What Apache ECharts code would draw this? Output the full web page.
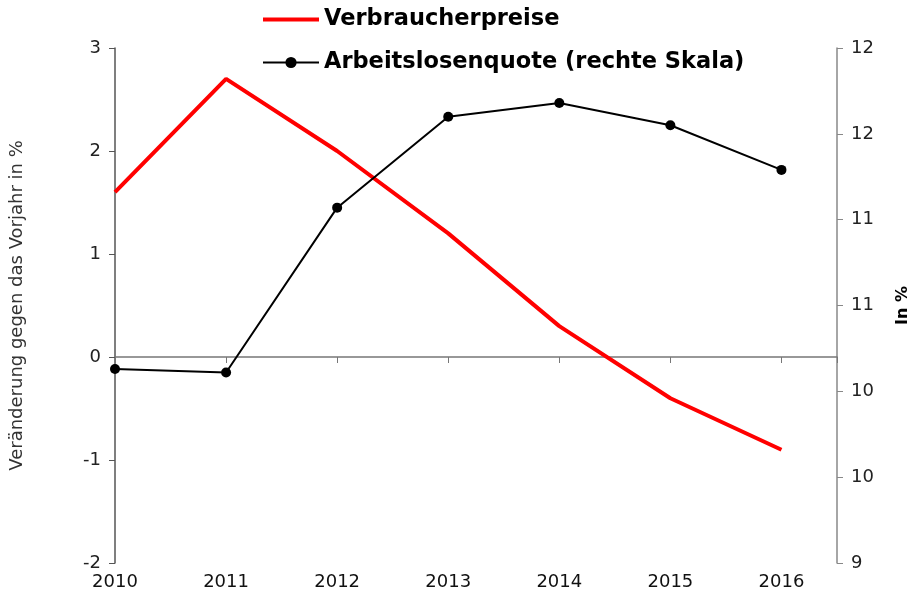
<!DOCTYPE html>
<html>
<head>
<meta charset="utf-8">
<script src="https://cdn.jsdelivr.net/npm/echarts@6/dist/echarts.min.js"></script>
<style>
  html, body { margin: 0; padding: 0; background: #fff; }
  #main { width: 909px; height: 605px; }
</style>
</head>
<body>
<div id="main"></div>
<script>
// Daten
const years = [2010, 2011, 2012, 2013, 2014, 2015, 2016];
const verbraucherpreise = [1.6, 2.7, 2.0, 1.2, 0.3, -0.4, -0.9];
const arbeitslosenquote = [10.13, 10.11, 11.07, 11.6, 11.68, 11.55, 11.29];

const font = 'DejaVu Sans';
const chart = echarts.init(document.querySelector('#main'));

const option = {
    backgroundColor: '#fff',
    textStyle: { fontFamily: font },
    legend: {
        orient: 'vertical',
        left: 256,
        top: 3,
        itemWidth: 56,
        itemHeight: 14,
        itemGap: 20,
        textStyle: { fontSize: 22.5, fontWeight: 'bold', color: '#000', fontFamily: font },
        data: [
            { name: 'Verbraucherpreise', itemStyle: { opacity: 0 }, lineStyle: { width: 4 } },
            { name: 'Arbeitslosenquote (rechte Skala)', lineStyle: { width: 2 } }
        ]
    },
    grid: { left: 115, right: 72, top: 48, bottom: 42, outerBoundsMode: 'none' },
    xAxis: [
        {
            type: 'value',
            min: 2010,
            max: 2016.5,
            interval: 1,
            position: 'bottom',
            axisLine: { show: false },
            axisTick: { show: false },
            splitLine: { show: false },
            axisLabel: {
                fontSize: 18,
                color: '#111',
                margin: 10,
                formatter: (v) => (v % 1 ? '' : String(v))
            }
        },
        {
            type: 'value',
            min: 2010,
            max: 2016.5,
            interval: 1,
            position: 'bottom',
            axisLine: { show: true, onZero: true, onZeroAxisIndex: 0, lineStyle: { color: '#777', width: 1.5 } },
            axisTick: { show: true, length: 6, lineStyle: { color: '#777' } },
            splitLine: { show: false },
            axisLabel: { show: false }
        }
    ],
    yAxis: [
        {
            type: 'value',
            min: -2,
            max: 3,
            interval: 1,
            position: 'left',
            name: 'Veränderung gegen das Vorjahr in %',
            nameLocation: 'middle',
            nameGap: 89,
            nameTextStyle: { fontSize: 18, color: '#333' },
            axisLine: { show: true, onZero: false, lineStyle: { color: '#555', width: 1.5 } },
            axisTick: { show: true, length: 6, lineStyle: { color: '#555' } },
            splitLine: { show: false },
            axisLabel: { fontSize: 18, color: '#222', margin: 14 }
        },
        {
            type: 'value',
            min: 9,
            max: 12,
            interval: 0.5,
            position: 'right',
            name: 'In %',
            nameLocation: 'middle',
            nameGap: 58,
            nameTextStyle: { fontSize: 16, fontWeight: 'bold', color: '#000' },
            axisLine: { show: true, onZero: false, lineStyle: { color: '#888', width: 1.5 } },
            axisTick: { show: true, length: 6, lineStyle: { color: '#888' } },
            splitLine: { show: false },
            axisLabel: {
                fontSize: 18,
                color: '#222',
                margin: 14,
                formatter: (v) => String(Math.round(v))
            }
        }
    ],
    series: [
        {
            name: 'Verbraucherpreise',
            type: 'line',
            xAxisIndex: 0,
            yAxisIndex: 0,
            symbol: 'none',
            lineStyle: { color: '#ff0000', width: 4 },
            itemStyle: { color: '#ff0000' },
            data: years.map((y, i) => [y, verbraucherpreise[i]])
        },
        {
            name: 'Arbeitslosenquote (rechte Skala)',
            type: 'line',
            xAxisIndex: 0,
            yAxisIndex: 1,
            symbol: 'circle',
            symbolSize: 10,
            lineStyle: { color: '#000', width: 2 },
            itemStyle: { color: '#000' },
            data: years.map((y, i) => [y, arbeitslosenquote[i]])
        }
    ],
    animation: false
};
chart.setOption(option);
</script>
</body>
</html>
